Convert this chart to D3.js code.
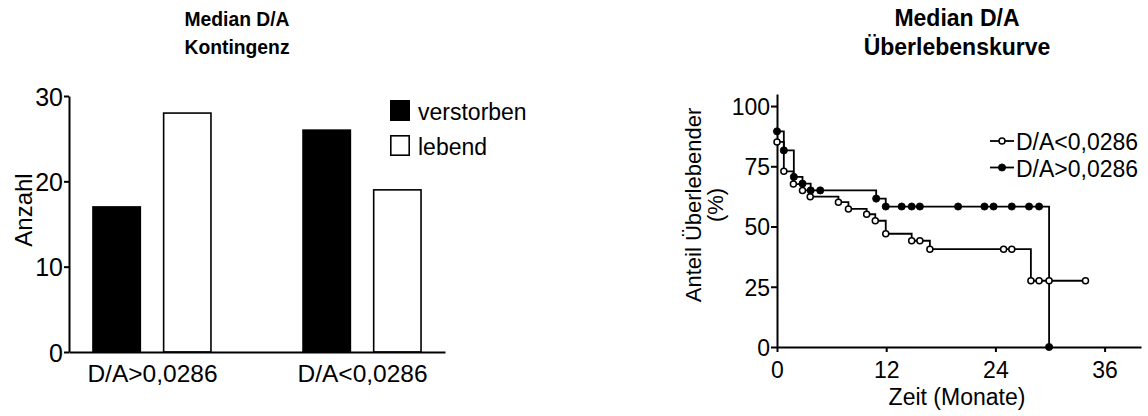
<!DOCTYPE html>
<html>
<head>
<meta charset="utf-8">
<script src="https://cdn.jsdelivr.net/npm/d3@7"></script>
<style>
  html, body { margin: 0; padding: 0; background: #fff; }
  svg { display: block; font-family: "Liberation Sans", Arial, Helvetica, sans-serif; }
  .axis path, .axis line { stroke: #000; stroke-width: 2; }
  .axis text { fill: #000; }
</style>
</head>
<body>
<svg id="chart" width="1148" height="416"></svg>
<script>
// ---- Kontingenz (bar chart) ----
const groups = ["D/A>0,0286", "D/A<0,0286"];
const statusKeys = ["verstorben", "lebend"];
const verstorben = [17, 26];
const lebend = [28, 19];
const countTicks = [0, 10, 20, 30];

// ---- Überlebenskurve (Kaplan-Meier steps, one symbol per observation) ----
const seriesLabels = ["D/A<0,0286", "D/A>0,0286"];
const lowTimes = [0, 0.75, 1.8, 2.8, 3.65, 6.75, 7.85, 9.85, 10.8, 11.95, 14.8, 15.7, 16.8, 24.9, 25.8, 27.9, 28.8, 29.9, 33.9];
const lowSurv  = [85.1, 72.9, 67.6, 65.0, 62.4, 60.1, 57.3, 55.1, 52.4, 47.0, 44.1, 44.1, 40.6, 40.6, 40.6, 27.5, 27.5, 27.5, 27.5];
const highTimes = [0, 0.75, 1.85, 2.8, 3.7, 4.75, 10.9, 11.95, 13.7, 14.8, 15.7, 19.9, 22.8, 23.8, 25.8, 27.7, 28.8, 29.9];
const highSurv  = [89.5, 81.6, 70.6, 67.8, 65.0, 65.0, 61.6, 58.3, 58.3, 58.3, 58.3, 58.3, 58.3, 58.3, 58.3, 58.3, 58.3, 0];
const survTicks = [0, 25, 50, 75, 100];
const timeTicks = [0, 12, 24, 36];

const svg = d3.select("#chart");

// ================= left panel =================
const L = svg.append("g");

const yL = d3.scaleLinear().domain([0, 30]).range([352, 96]);
const xGroup = d3.scalePoint().domain(groups).range([69, 445]).padding(0.395);
const xStatus = d3.scaleBand().domain(statusKeys).range([-59, 59]).paddingInner(0.33);

const barRows = groups.map((g, i) => ({ group: g, values: [
  { key: "verstorben", value: verstorben[i] },
  { key: "lebend", value: lebend[i] }
]}));

L.selectAll("g.grp").data(barRows).join("g")
  .attr("class", "grp")
  .attr("transform", d => `translate(${xGroup(d.group)},0)`)
  .selectAll("rect").data(d => d.values).join("rect")
  .attr("x", d => xStatus(d.key))
  .attr("width", xStatus.bandwidth())
  .attr("y", d => yL(d.value))
  .attr("height", d => yL(0) - yL(d.value))
  .attr("fill", d => d.key === "verstorben" ? "#000" : "#fff")
  .attr("stroke", "#000")
  .attr("stroke-width", 1.6);

L.append("g").attr("class", "axis")
  .attr("transform", "translate(69,0)")
  .call(d3.axisLeft(yL).tickValues(countTicks).tickSize(5).tickSizeOuter(0).tickPadding(1))
  .call(g => g.selectAll("text").attr("font-size", 25).attr("dy", "0.36em"));

L.append("g").attr("class", "axis")
  .attr("transform", "translate(0,352)")
  .call(d3.axisBottom(xGroup).tickSize(0).tickSizeOuter(0).tickPadding(13))
  .call(g => g.selectAll("text").attr("font-size", 24.5));

L.append("text")
  .attr("transform", "translate(32,210) rotate(-90)")
  .attr("text-anchor", "middle")
  .attr("font-size", 24)
  .text("Anzahl");

L.append("text").attr("transform", "translate(237,26) scale(0.92,1)").attr("text-anchor", "middle")
  .attr("font-weight", "bold").attr("font-size", 21).text("Median D/A");
L.append("text").attr("transform", "translate(237,54) scale(0.92,1)").attr("text-anchor", "middle")
  .attr("font-weight", "bold").attr("font-size", 21).text("Kontingenz");

const legL = L.append("g").selectAll("g").data(statusKeys).join("g")
  .attr("transform", (d, i) => `translate(390,${100 + i * 35})`);
legL.append("rect")
  .attr("x", 0.8).attr("y", 0.8).attr("width", 18.4).attr("height", 19.4)
  .attr("fill", d => d === "verstorben" ? "#000" : "#fff")
  .attr("stroke", "#000").attr("stroke-width", 1.6);
legL.append("text").attr("x", 28).attr("y", 19.5)
  .attr("font-size", 23).text(d => d);

// ================= right panel =================
const R = svg.append("g");

const xR = d3.scaleLinear().domain([0, 40]).range([777, 1141]);
const yR = d3.scaleLinear().domain([0, 105]).range([347, 94]);

R.append("g").attr("class", "axis")
  .attr("transform", "translate(777,0)")
  .call(d3.axisLeft(yR).tickValues(survTicks).tickSize(6).tickSizeOuter(0).tickPadding(1))
  .call(g => g.selectAll("text").attr("font-size", 23).attr("dy", "0.36em"));

R.append("g").attr("class", "axis")
  .attr("transform", "translate(0,347)")
  .call(d3.axisBottom(xR).tickValues(timeTicks).tickSize(5).tickSizeOuter(0).tickPadding(10))
  .call(g => g.selectAll("text").attr("font-size", 23));

R.append("text").attr("x", 957).attr("y", 405).attr("text-anchor", "middle")
  .attr("font-size", 23).text("Zeit (Monate)");

R.append("text")
  .attr("transform", "translate(701,205) rotate(-90)")
  .attr("text-anchor", "middle").attr("font-size", 22).text("Anteil Überlebender");
R.append("text")
  .attr("transform", "translate(723,205) rotate(-90)")
  .attr("text-anchor", "middle").attr("font-size", 22).text("(%)");

R.append("text").attr("x", 957).attr("y", 26).attr("text-anchor", "middle")
  .attr("font-weight", "bold").attr("font-size", 23).text("Median D/A");
R.append("text").attr("x", 957).attr("y", 55).attr("text-anchor", "middle")
  .attr("font-weight", "bold").attr("font-size", 23).text("Überlebenskurve");

const survSeries = [
  { label: seriesLabels[0], filled: false, pts: lowTimes.map((t, i) => [t, lowSurv[i]]) },
  { label: seriesLabels[1], filled: true,  pts: highTimes.map((t, i) => [t, highSurv[i]]) }
];

const step = d3.line().x(d => xR(d[0])).y(d => yR(d[1])).curve(d3.curveStepAfter);

survSeries.forEach(s => {
  R.append("path").attr("d", step(s.pts))
    .attr("fill", "none").attr("stroke", "#000").attr("stroke-width", 1.8);
});
survSeries.forEach(s => {
  R.append("g").selectAll("circle").data(s.pts).join("circle")
    .attr("cx", d => xR(d[0])).attr("cy", d => yR(d[1]))
    .attr("r", s.filled ? 3.6 : 3)
    .attr("fill", s.filled ? "#000" : "#fff")
    .attr("stroke", "#000").attr("stroke-width", s.filled ? 0.8 : 1.5);
});

const legR = R.append("g").selectAll("g").data(survSeries).join("g")
  .attr("transform", (d, i) => `translate(990,${141 + i * 26.5})`);
legR.append("line").attr("x1", 0).attr("x2", 24).attr("stroke", "#000").attr("stroke-width", 1.8);
legR.append("circle").attr("cx", 12).attr("r", d => d.filled ? 3.6 : 3)
  .attr("fill", d => d.filled ? "#000" : "#fff")
  .attr("stroke", "#000").attr("stroke-width", d => d.filled ? 0.8 : 1.5);
legR.append("text").attr("x", 26).attr("y", 9).attr("font-size", 23).text(d => d.label);
</script>
</body>
</html>
